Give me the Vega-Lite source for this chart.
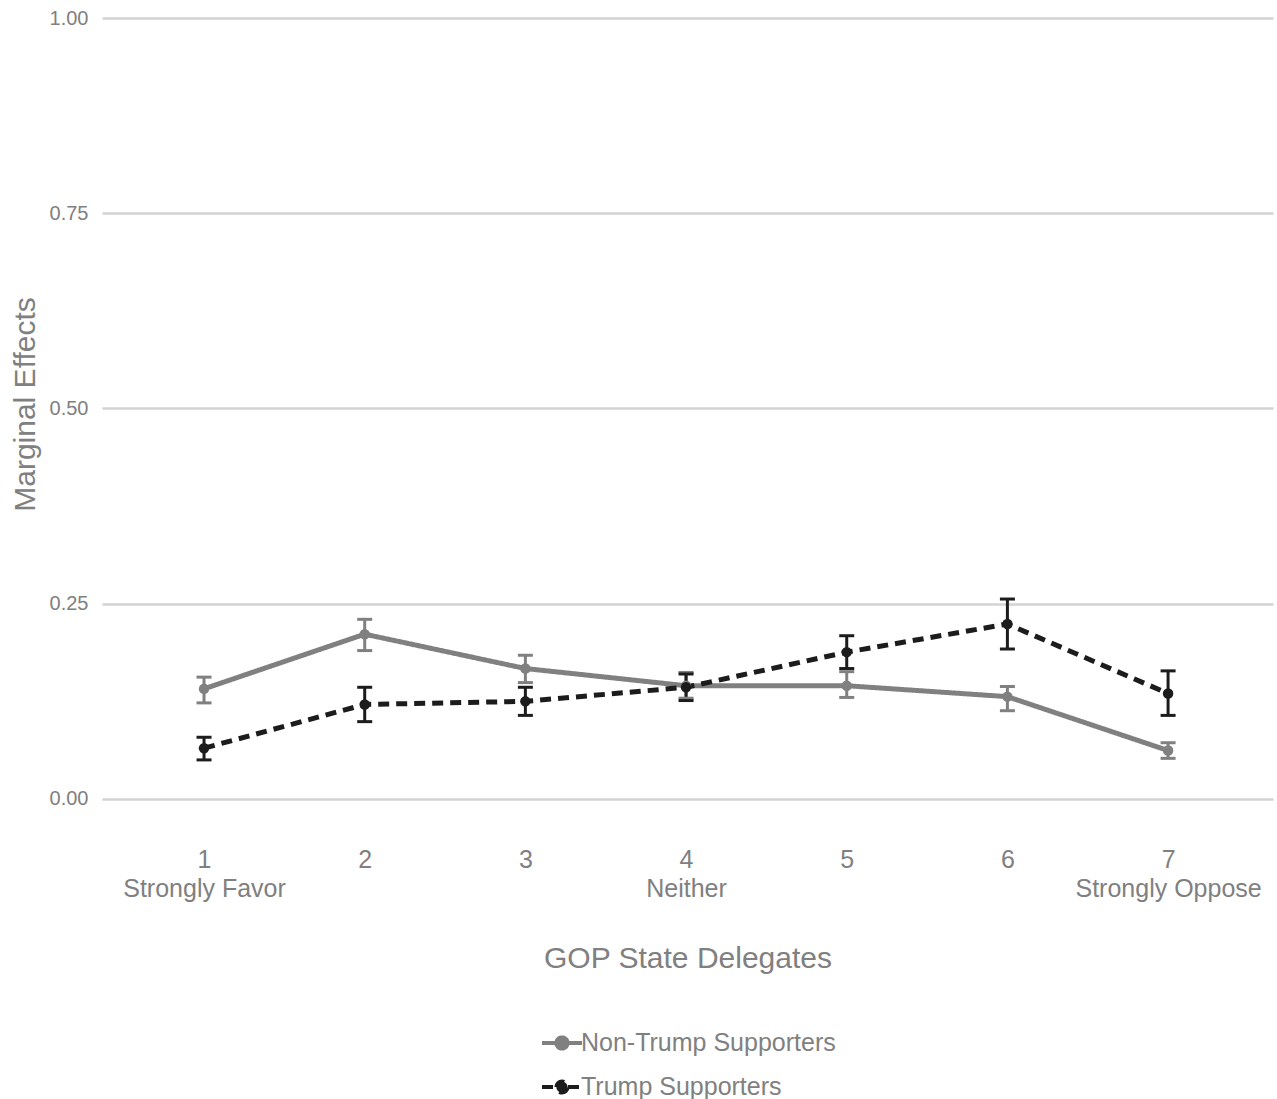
{
  "$schema": "https://vega.github.io/schema/vega-lite/v6.json",
  "autosize": "none",
  "width": 1171,
  "height": 820,
  "padding": {"left": 102, "top": 18, "right": 4, "bottom": 261},
  "background": "white",
  "config": {
    "font": "Liberation Sans",
    "view": {"stroke": null},
    "axis": {"labelColor": "#808080", "titleColor": "#808080", "titleFontWeight": "normal", "domain": false, "ticks": false, "tickSize": 0}
  },
  "data": {
    "values": [
      {"series": "Non-Trump Supporters", "x": 1, "y": 0.141, "lo": 0.123, "hi": 0.156},
      {"series": "Non-Trump Supporters", "x": 2, "y": 0.211, "lo": 0.190, "hi": 0.230},
      {"series": "Non-Trump Supporters", "x": 3, "y": 0.167, "lo": 0.149, "hi": 0.184},
      {"series": "Non-Trump Supporters", "x": 4, "y": 0.145, "lo": 0.129, "hi": 0.162},
      {"series": "Non-Trump Supporters", "x": 5, "y": 0.145, "lo": 0.130, "hi": 0.163},
      {"series": "Non-Trump Supporters", "x": 6, "y": 0.131, "lo": 0.113, "hi": 0.144},
      {"series": "Non-Trump Supporters", "x": 7, "y": 0.062, "lo": 0.052, "hi": 0.072},
      {"series": "Trump Supporters", "x": 1, "y": 0.065, "lo": 0.050, "hi": 0.079},
      {"series": "Trump Supporters", "x": 2, "y": 0.121, "lo": 0.099, "hi": 0.143},
      {"series": "Trump Supporters", "x": 3, "y": 0.125, "lo": 0.107, "hi": 0.143},
      {"series": "Trump Supporters", "x": 4, "y": 0.143, "lo": 0.126, "hi": 0.160},
      {"series": "Trump Supporters", "x": 5, "y": 0.188, "lo": 0.167, "hi": 0.209},
      {"series": "Trump Supporters", "x": 6, "y": 0.224, "lo": 0.192, "hi": 0.256},
      {"series": "Trump Supporters", "x": 7, "y": 0.135, "lo": 0.107, "hi": 0.164}
    ]
  },
  "encoding": {
    "x": {
      "field": "x", "type": "quantitative",
      "scale": {"domain": [0.365, 7.653], "nice": false, "zero": false},
      "axis": {
        "title": "GOP State Delegates", "titleFontSize": 30, "titlePadding": 42,
        "values": [1, 2, 3, 4, 5, 6, 7], "grid": false,
        "labelFontSize": 25, "labelPadding": 9, "labelLineHeight": 29, "labelLimit": 0,
        "labelOverlap": false, "labelBound": false, "labelFlush": false,
        "labelExpr": "datum.value == 1 ? ['1', 'Strongly Favor'] : datum.value == 4 ? ['4', 'Neither'] : datum.value == 7 ? ['7', 'Strongly Oppose'] : datum.label"
      }
    },
    "color": {
      "field": "series", "type": "nominal",
      "scale": {"domain": ["Non-Trump Supporters", "Trump Supporters"], "range": ["#808080", "#1c1c1c"]},
      "legend": {
        "title": null, "orient": "none", "legendX": 438, "legendY": 1003,
        "direction": "vertical", "labelFontSize": 25, "labelColor": "#808080", "labelLimit": 0,
        "labelOffset": -3, "rowPadding": 8, "symbolSize": 1600, "symbolStrokeWidth": 4,
        "symbolType": "M-1,0L-0.3,0M0.3,0L1,0M-0.28,0A0.28,0.28 0 1,1 0.28,0A0.28,0.28 0 1,1 -0.28,0Z"
      }
    }
  },
  "layer": [
    {
      "mark": {"type": "rule", "strokeWidth": 3},
      "encoding": {
        "y": {"field": "lo", "type": "quantitative"},
        "y2": {"field": "hi"},
        "order": {"field": "series"}
      }
    },
    {
      "mark": {"type": "tick", "orient": "horizontal", "size": 15, "thickness": 3, "opacity": 1},
      "encoding": {
        "y": {"field": "lo", "type": "quantitative"}
      }
    },
    {
      "mark": {"type": "tick", "orient": "horizontal", "size": 15, "thickness": 3, "opacity": 1},
      "encoding": {
        "y": {"field": "hi", "type": "quantitative"}
      }
    },
    {
      "mark": {"type": "line", "strokeWidth": 5},
      "encoding": {
        "y": {
          "field": "y", "type": "quantitative",
          "scale": {"domain": [-0.05, 1.0], "nice": false, "zero": false},
          "axis": {
            "title": "Marginal Effects", "titleFontSize": 30, "titleX": -77, "titleY": 386,
            "titleBaseline": "middle", "titleAngle": -90, "titleAlign": "center",
            "values": [0, 0.25, 0.5, 0.75, 1], "format": ".2f",
            "labelFontSize": 20, "labelPadding": 14,
            "grid": true, "gridColor": "#d3d3d3", "gridWidth": 2.5
          }
        },
        "strokeDash": {
          "field": "series", "type": "nominal",
          "scale": {"domain": ["Non-Trump Supporters", "Trump Supporters"], "range": [[1, 0], [11, 7]]},
          "legend": null
        }
      }
    },
    {
      "mark": {"type": "point", "filled": true, "size": 110, "opacity": 1},
      "encoding": {
        "y": {"field": "y", "type": "quantitative"}
      }
    }
  ]
}
